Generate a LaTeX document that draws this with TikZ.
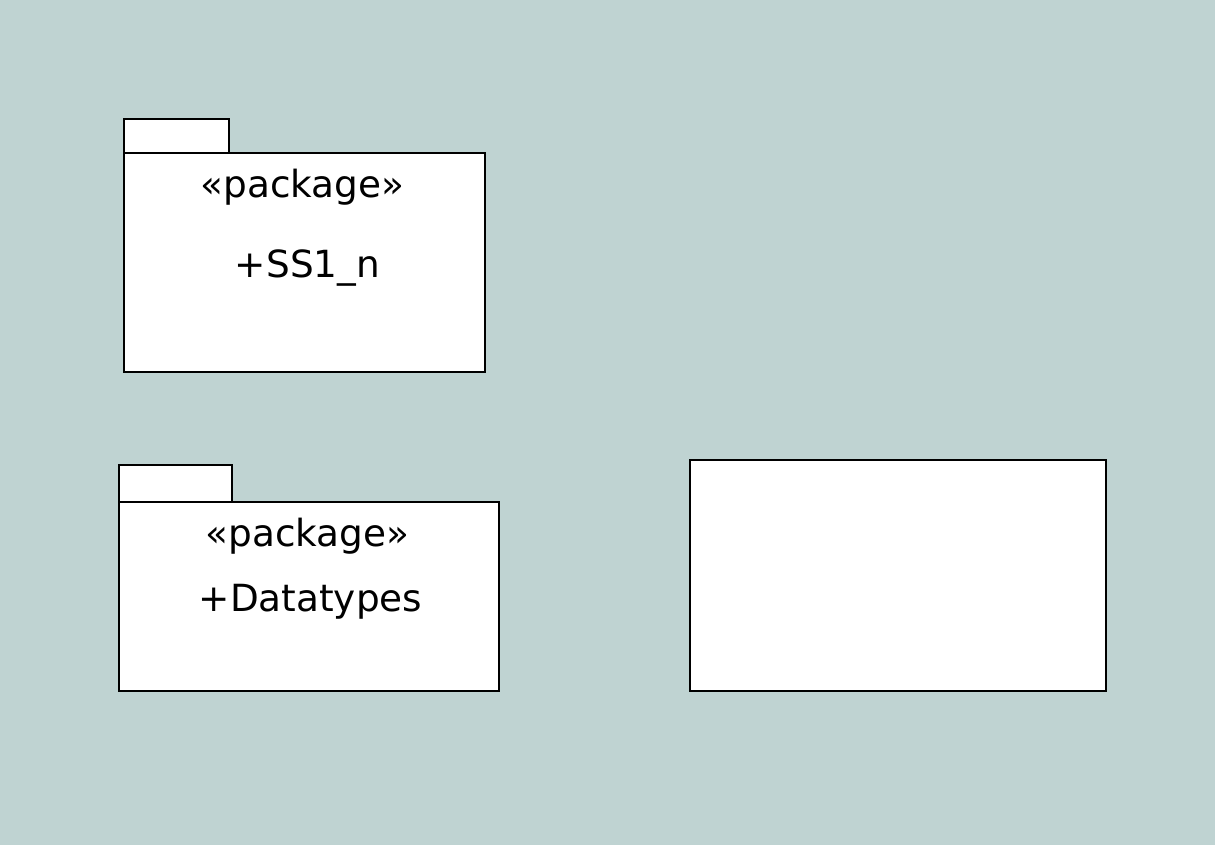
\documentclass[tikz,border=0pt]{standalone}
\usepackage{fontspec}
\setmainfont{DejaVu Sans}
\definecolor{canvas}{RGB}{191,211,210}
\begin{document}
\begin{tikzpicture}[x=1pt,y=-1pt,
  box/.style={draw=black,fill=white,line width=2pt,anchor=north west,inner sep=0pt,outer sep=0pt},
  label/.style={anchor=base,inner sep=0pt,font=\fontsize{37.4}{42}\selectfont}]
\useasboundingbox (0,0) rectangle (1231,861);
\fill[white] (0,0) rectangle (1231,861);
\fill[canvas] (0,0) rectangle (1215,845);

% package SS1_n
\node[box,minimum width=105pt,minimum height=34pt] (tab1) at (124,119) {};
\node[box,minimum width=361pt,minimum height=219pt] (pkg1) at (124,153) {};
\node[label] (st1) at (302.5,198) {«package»};
\node[label] (nm1) at (307.5,277) {+SS1\_n};

% package Datatypes
\node[box,minimum width=113pt,minimum height=37pt] (tab2) at (119,465) {};
\node[box,minimum width=380pt,minimum height=189pt] (pkg2) at (119,502) {};
\node[label] (st2) at (307.5,546) {«package»};
\node[label] (nm2) at (310.5,611) {+Datatypes};

% empty element
\node[box,minimum width=416pt,minimum height=231pt] (blank) at (690,460) {};
\end{tikzpicture}
\end{document}
